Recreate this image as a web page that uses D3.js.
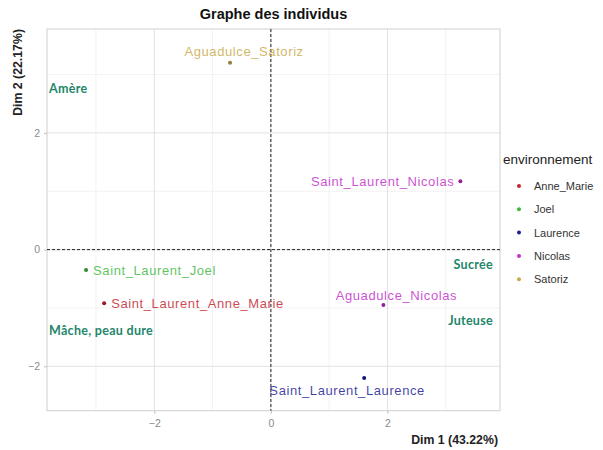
<!DOCTYPE html>
<html>
<head>
<meta charset="utf-8">
<script src="https://cdn.jsdelivr.net/npm/d3@7/dist/d3.min.js"></script>
<style>
  html, body { margin: 0; padding: 0; background: #fff; }
  svg { display: block; }
</style>
</head>
<body>
<svg id="chart" width="603" height="450"></svg>
<script>
// Individuals on the first factorial plane
const individus = ["Aguadulce_Satoriz", "Saint_Laurent_Nicolas", "Saint_Laurent_Joel",
                   "Saint_Laurent_Anne_Marie", "Aguadulce_Nicolas", "Saint_Laurent_Laurence"];
const dim1 = [-0.70, 3.25, -3.17, -2.86, 1.93, 1.60];
const dim2 = [3.20, 1.17, -0.35, -0.92, -0.95, -2.20];
const environnement = ["Satoriz", "Nicolas", "Joel", "Anne_Marie", "Nicolas", "Laurence"];

// Legend levels and their colours
const niveaux = ["Anne_Marie", "Joel", "Laurence", "Nicolas", "Satoriz"];
const couleurs = ["#c4262e", "#3fb83f", "#1c1c96", "#c32fcb", "#c9a94a"];

// Descriptor annotations
const descripteurs = ["Amère", "Sucrée", "Juteuse", "Mâche, peau dure"];
const descX = [-3.84, 3.93, 3.93, -3.84];
const descY = [2.765, -0.25, -1.22, -1.39];

// Axis ticks
const ticksX = [-2, 0, 2];
const ticksY = [-2, 0, 2];
const minorX = [-3, -1, 1, 3];
const minorY = [-1, 1, 3];

const titre = "Graphe des individus";
const titreX = "Dim 1 (43.22%)";
const titreY = "Dim 2 (22.17%)";
const titreLegende = "environnement";

const svg = d3.select("#chart");
const panel = { left: 47, right: 500, top: 29, bottom: 410.7 };

const x = d3.scaleLinear().domain([-3.84, 3.93]).range([panel.left, panel.right]);
const y = d3.scaleLinear().domain([-2.76, 3.78]).range([panel.bottom, panel.top]);
const colour = d3.scaleOrdinal().domain(niveaux).range(couleurs);

const font = "'Liberation Sans', Arial, sans-serif";

// grid
const grid = svg.append("g");
grid.selectAll(".minx").data(minorX).join("line")
  .attr("x1", d => x(d)).attr("x2", d => x(d))
  .attr("y1", panel.top).attr("y2", panel.bottom)
  .attr("stroke", "#efefef").attr("stroke-width", 0.8);
grid.selectAll(".miny").data(minorY).join("line")
  .attr("y1", d => y(d)).attr("y2", d => y(d))
  .attr("x1", panel.left).attr("x2", panel.right)
  .attr("stroke", "#efefef").attr("stroke-width", 0.8);
grid.selectAll(".majx").data(ticksX).join("line")
  .attr("x1", d => x(d)).attr("x2", d => x(d))
  .attr("y1", panel.top).attr("y2", panel.bottom)
  .attr("stroke", "#e2e2e2").attr("stroke-width", 1);
grid.selectAll(".majy").data(ticksY).join("line")
  .attr("y1", d => y(d)).attr("y2", d => y(d))
  .attr("x1", panel.left).attr("x2", panel.right)
  .attr("stroke", "#e2e2e2").attr("stroke-width", 1);

// axes
const axisX = svg.append("g")
  .attr("transform", `translate(0,${panel.bottom})`)
  .call(d3.axisBottom(x).tickValues(ticksX).tickSize(3).tickPadding(6).tickFormat(d3.format("d")));
const axisY = svg.append("g")
  .attr("transform", `translate(${panel.left},0)`)
  .call(d3.axisLeft(y).tickValues(ticksY).tickSize(3).tickPadding(4).tickFormat(d3.format("d")));
[axisX, axisY].forEach(a => {
  a.select(".domain").remove();
  a.selectAll(".tick line").attr("stroke", "#bdbdbd");
  a.selectAll(".tick text").attr("fill", "#8a8a8a").attr("font-size", 10.5).attr("font-family", font);
});

// panel border
svg.append("rect")
  .attr("x", panel.left).attr("y", panel.top)
  .attr("width", panel.right - panel.left).attr("height", panel.bottom - panel.top)
  .attr("fill", "none").attr("stroke", "#cfcfcf").attr("stroke-width", 1);

// reference lines through origin
svg.append("line")
  .attr("x1", x(0)).attr("x2", x(0)).attr("y1", panel.top).attr("y2", panel.bottom)
  .attr("stroke", "#222").attr("stroke-width", 1).attr("stroke-dasharray", "3,2");
svg.append("line")
  .attr("y1", y(0)).attr("y2", y(0)).attr("x1", panel.left).attr("x2", panel.right)
  .attr("stroke", "#222").attr("stroke-width", 1).attr("stroke-dasharray", "3,2");

// descriptor annotations
svg.selectAll(".desc").data(descripteurs).join("text")
  .attr("x", (d, i) => x(descX[i]) + (descX[i] < 0 ? 2 : -7))
  .attr("y", (d, i) => y(descY[i]) + 4.5)
  .attr("text-anchor", (d, i) => descX[i] < 0 ? "start" : "end")
  .attr("font-family", "Lato, 'Open Sans', sans-serif")
  .attr("font-weight", "bold")
  .attr("font-size", 12.5)
  .attr("letter-spacing", 0.3)
  .attr("fill", "#23866a")
  .text(d => d);

// label placement around each point (pixel offsets and anchor)
const placement = [
  { dx: 14, dy: -7, anchor: "middle" },
  { dx: -6, dy: 4.5, anchor: "end" },
  { dx: 7, dy: 4.5, anchor: "start" },
  { dx: 7, dy: 4.5, anchor: "start" },
  { dx: 13, dy: -5, anchor: "middle" },
  { dx: -17, dy: 17, anchor: "middle" }
];

const pts = svg.append("g");
pts.selectAll("text").data(individus).join("text")
  .attr("x", (d, i) => x(dim1[i]) + placement[i].dx)
  .attr("y", (d, i) => y(dim2[i]) + placement[i].dy)
  .attr("text-anchor", (d, i) => placement[i].anchor)
  .attr("font-family", font)
  .attr("font-size", 13)
  .attr("letter-spacing", 0.6)
  .attr("fill", (d, i) => colour(environnement[i]))
  .attr("fill-opacity", 0.85)
  .text(d => d);
pts.selectAll("circle").data(individus).join("circle")
  .attr("cx", (d, i) => x(dim1[i]))
  .attr("cy", (d, i) => y(dim2[i]))
  .attr("r", 2)
  .attr("fill", (d, i) => d3.color(colour(environnement[i])).darker(0.8));

// titles
svg.append("text")
  .attr("x", (panel.left + panel.right) / 2).attr("y", 19)
  .attr("text-anchor", "middle")
  .attr("font-family", font).attr("font-weight", "bold").attr("font-size", 14.5)
  .attr("fill", "#111").text(titre);
svg.append("text")
  .attr("x", panel.right - 2).attr("y", 444)
  .attr("text-anchor", "end")
  .attr("font-family", font).attr("font-weight", "bold").attr("font-size", 12.3)
  .attr("fill", "#222").text(titreX);
svg.append("text")
  .attr("transform", `translate(22,${panel.top}) rotate(-90)`)
  .attr("text-anchor", "end")
  .attr("font-family", font).attr("font-weight", "bold").attr("font-size", 12.3)
  .attr("fill", "#222").text(titreY);

// legend
const legend = svg.append("g").attr("transform", "translate(503,0)");
legend.append("text")
  .attr("x", 0).attr("y", 164)
  .attr("font-family", font).attr("font-size", 13.5).attr("fill", "#222")
  .text(titreLegende);
const items = legend.selectAll(".item").data(niveaux).join("g")
  .attr("transform", (d, i) => `translate(0,${186 + i * 23.3})`);
items.append("circle").attr("cx", 16).attr("cy", 0).attr("r", 2)
  .attr("fill", d => colour(d));
items.append("text").attr("x", 31).attr("y", 4)
  .attr("font-family", font).attr("font-size", 11).attr("fill", "#333")
  .text(d => d);
</script>
</body>
</html>
